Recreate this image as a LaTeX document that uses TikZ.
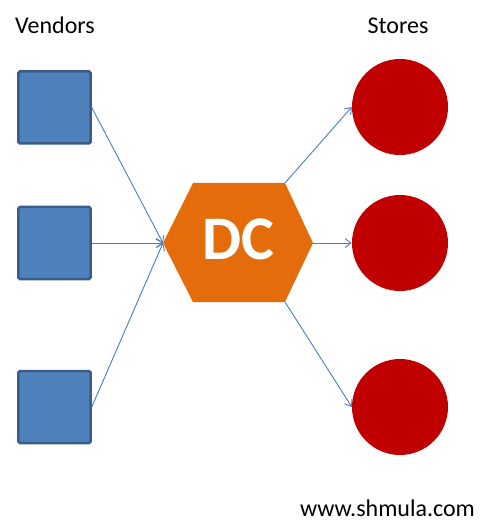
\documentclass[tikz,border=0pt]{standalone}
\usepackage{fontspec}
\setmainfont{Carlito}
\usetikzlibrary{arrows.meta}
\definecolor{sqfill}{HTML}{4F81BD}
\definecolor{sqline}{HTML}{385D8A}
\definecolor{storefill}{HTML}{C00000}
\definecolor{dcfill}{HTML}{E46C0A}
\definecolor{arrowcol}{HTML}{4A7EBB}
\tikzset{
  vendor/.style={draw=sqline, fill=sqfill, line width=2.5bp, rounded corners=1.5bp, minimum size=72bp, inner sep=0pt},
  store/.style={circle, fill=storefill, minimum size=96bp, inner sep=0pt},
  label/.style={font=\fontsize{24bp}{28bp}\selectfont, text=black, inner sep=0pt, anchor=base},
  flow/.style={draw=arrowcol, line width=0.9bp, -{Straight Barb[length=6bp,width=9bp,line width=0.9bp]}},
}
\begin{document}
\begin{tikzpicture}[x=1bp, y=-1bp]
\useasboundingbox (0,0) rectangle (486,530);
% labels
\node[label] (lv) at (55,34) {Vendors};
\node[label] (ls) at (398,34) {Stores};
\node[label] (url) at (387.5,516) {www.shmula.com};
% vendors
\node[vendor] (v1) at (54.5,107.5) {};
\node[vendor] (v2) at (54.5,243) {};
\node[vendor] (v3) at (54.5,407) {};
% stores
\node[store] (s1) at (400,107) {};
\node[store] (s2) at (400,243) {};
\node[store] (s3) at (400,407) {};
% DC hexagon
\coordinate (hl) at (163,243);
\coordinate (htl) at (193,183);
\coordinate (htr) at (285,183);
\coordinate (hr) at (313,243);
\coordinate (hbr) at (285,302);
\coordinate (hbl) at (193,302);
\fill[dcfill] (hl) -- (htl) -- (htr) -- (hr) -- (hbr) -- (hbl) -- cycle;
\node[font=\fontsize{62bp}{66bp}\selectfont\bfseries, text=white, inner sep=0pt, anchor=base] (dc) at (238,259) {DC};
% connectors
\draw[flow] (v1.east) -- (hl);
\draw[flow] (v2.east) -- (hl);
\draw[flow] (v3.east) -- (hl);
\draw[flow] (htr) -- (s1.west);
\draw[flow] (hr) -- (s2.west);
\draw[flow] (hbr) -- (s3.west);
\end{tikzpicture}
\end{document}
